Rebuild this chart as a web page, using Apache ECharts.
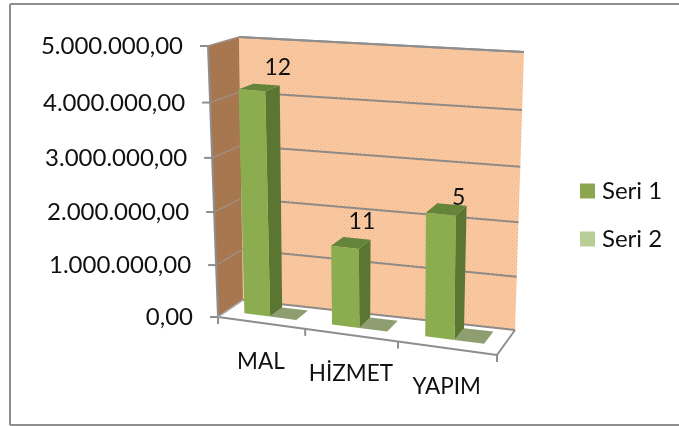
<!DOCTYPE html>
<html><head><meta charset="utf-8">
<style>html,body{margin:0;padding:0;background:#fff}#c{width:679px;height:426px}</style>
<script src="https://cdn.jsdelivr.net/npm/echarts@6/dist/echarts.min.js"></script>
</head><body><div id="c"></div>
<script>
const categories = ['MAL', 'HİZMET', 'YAPIM'];
const seri1 = [4200000, 1490000, 2280000];
const seri2 = [0, 0, 0];
const dataLabels = ['12', '11', '5'];
const valueTicks = [0, 1000000, 2000000, 3000000, 4000000, 5000000];
const tickLabels = ['0,00', '1.000.000,00', '2.000.000,00', '3.000.000,00', '4.000.000,00', '5.000.000,00'];

// layout constants of the tilted plot box (screen corners, perspective warp)
const GRID = {left: 218, top: 46, width: 279, height: 271};
const C = {
  fbl: [218, 317], fbr: [497, 355], bbl: [243, 300], bbr: [515, 330],
  ftl: [208, 46], ftr: [500, 69], btl: [239, 37], btr: [524, 52]
};
const KX = 1.10, KY = 1.055;
const LABEL_NUDGE = [[26, -23], [17, -26], [18, -17]];
const FONT = 'Lato, sans-serif';

function warp(t, k) { return t / (t + (1 - t) * k); }
function lerp(a, b, t) { return [a[0] + (b[0] - a[0]) * t, a[1] + (b[1] - a[1]) * t]; }
function project(u, v, z) {
  const a = warp(u, KX), s = warp(v, KY);
  const fb = lerp(C.fbl, C.fbr, a), bb = lerp(C.bbl, C.bbr, a);
  const ft = lerp(C.ftl, C.ftr, a), bt = lerp(C.btl, C.btr, a);
  return lerp(lerp(fb, bb, z), lerp(ft, bt, z), s);
}
function pattern(base, dot) {
  const c = document.createElement('canvas');
  c.width = 4; c.height = 4;
  const g = c.getContext('2d');
  g.fillStyle = base; g.fillRect(0, 0, 4, 4);
  g.fillStyle = dot; g.fillRect(0, 0, 1, 1); g.fillRect(2, 2, 1, 1);
  return {image: c, repeat: 'repeat'};
}
const wallFill = pattern('#F9C8A0', '#EDB486');
const sideFill = pattern('#AA7850', '#967048');

function poly(points, fill, z2) {
  return {type: 'polygon', shape: {points}, style: {fill}, z2: z2 || 0};
}
function seg(a, b, stroke, w) {
  return {type: 'line', shape: {x1: a[0], y1: a[1], x2: b[0], y2: b[1]}, style: {stroke, lineWidth: w || 2}};
}
function text(t, x, y, size, align) {
  return {type: 'text', style: {text: t, x, y, font: size + 'px ' + FONT, fill: '#111', textAlign: align || 'center', textVerticalAlign: 'middle'}};
}
function toBox(api, cat, frac, value) {
  const band = api.size([1, 0])[0];
  const p = api.coord([cat, value]);
  return {u: (p[0] + frac * band - GRID.left) / GRID.width, v: (GRID.top + GRID.height - p[1]) / GRID.height};
}

const Z0 = 0.35, Z1 = 0.85;
function box(api, cat, f0, f1, value, colors) {
  const a = toBox(api, cat, f0, value), b = toBox(api, cat, f1, value);
  const v = a.v;
  const fl0 = project(a.u, 0, Z0), fr0 = project(b.u, 0, Z0), br0 = project(b.u, 0, Z1), bl0 = project(a.u, 0, Z1);
  const fl1 = project(a.u, v, Z0), fr1 = project(b.u, v, Z0), br1 = project(b.u, v, Z1), bl1 = project(a.u, v, Z1);
  if (v <= 0) return [poly([fl0, fr0, br0, bl0], colors.top)];
  return [
    poly([fr0, br0, br1, fr1], colors.side),
    poly([fl1, fr1, br1, bl1], colors.top),
    poly([fl0, fr0, fr1, fl1], colors.front)
  ];
}

const frameSeries = {
  type: 'custom', name: 'frame', coordinateSystem: 'cartesian2d', silent: true, z: 1,
  data: [[0, 0]],
  renderItem(params, api) {
    const kids = [];
    const gray = '#8E8E8E';
    // chart frame
    kids.push(seg([10, 4], [679, 4], gray, 2), seg([10, 4], [10, 425], gray, 2), seg([10, 425], [679, 425], gray, 2));
    // walls and floor
    kids.push(poly([C.btl, C.btr, C.bbr, C.bbl], wallFill));
    kids.push(poly([C.ftl, C.btl, C.bbl, C.fbl], sideFill));
    kids.push(poly([C.fbl, C.fbr, C.bbr, C.bbl], '#fff'));
    // gridlines, ticks and value labels through the value axis
    valueTicks.forEach((val, i) => {
      const v = (GRID.top + GRID.height - api.coord([0, val])[1]) / GRID.height;
      const f = project(0, v, 0), bl = project(0, v, 1), br = project(1, v, 1);
      kids.push(seg(bl, br, '#8F8A85', 2));
      kids.push(seg(f, bl, '#A08E82', 1.5));
      kids.push(seg([f[0] - 8, f[1]], f, gray, 2));
      kids.push(text(tickLabels[i], f[0] - 25, f[1] + 0.5, 24, 'right'));
    });
    // box edges
    kids.push(seg(C.ftl, C.fbl, gray, 2), seg(C.fbl, C.fbr, gray, 2), seg(C.fbr, C.bbr, gray, 2), seg(C.bbl, C.fbl, '#B0B0B0', 1.5));
    kids.push(seg(C.btl, C.btr, gray, 2));
    // category ticks and labels
    for (let i = 0; i <= categories.length; i++) {
      const p = project(i / categories.length, 0, 0);
      kids.push(seg(p, [p[0], p[1] + 7], gray, 2));
    }
    categories.forEach((name, i) => {
      const b = toBox(api, i, 0, 0);
      const p = project(b.u, 0, 0);
      kids.push(text(name, p[0], p[1] + 39, 22.5));
    });
    return {type: 'group', children: kids};
  }
};

const seri2Series = {
  type: 'custom', name: 'Seri 2', coordinateSystem: 'cartesian2d', silent: true, z: 2,
  itemStyle: {color: '#B9CD96'},
  data: seri2.map((v, i) => [i, v]),
  renderItem(params, api) {
    return {type: 'group', children: box(api, api.value(0), 0.01, 0.31, api.value(1), {top: '#8E9E70', side: '#8E9E70', front: '#B9CD96'})};
  }
};
const seri1Series = {
  type: 'custom', name: 'Seri 1', coordinateSystem: 'cartesian2d', silent: true, z: 3,
  itemStyle: {color: '#8CA650'},
  data: seri1.map((v, i) => [i, v]),
  renderItem(params, api) {
    const i = api.value(0), val = api.value(1);
    const kids = box(api, i, -0.29, 0.01, val, {front: '#8BAD50', side: '#5A7630', top: '#64843A'});
    const a = toBox(api, i, -0.14, val);
    const p = project(a.u, a.v, Z0);
    kids.push(text(dataLabels[i], p[0] + LABEL_NUDGE[i][0], p[1] + LABEL_NUDGE[i][1], 23));
    return {type: 'group', children: kids};
  }
};

const chart = echarts.init(document.getElementById('c'), null, {renderer: 'canvas'});
chart.setOption({
  animation: false,
  backgroundColor: '#fff',
  grid: {left: GRID.left, top: GRID.top, width: GRID.width, height: GRID.height},
  xAxis: {type: 'category', data: categories, show: false},
  yAxis: {type: 'value', min: 0, max: 5000000, interval: 1000000, show: false},
  legend: {
    orient: 'vertical', left: 580, top: 179, padding: 0, data: ['Seri 1', 'Seri 2'], icon: 'rect',
    itemWidth: 15, itemHeight: 15, itemGap: 24, selectedMode: false,
    textStyle: {fontFamily: FONT, fontSize: 24, color: '#111', lineHeight: 24, padding: [0, 0, 0, 2]}
  },
  series: [frameSeries, seri2Series, seri1Series]
});
</script></body></html>
